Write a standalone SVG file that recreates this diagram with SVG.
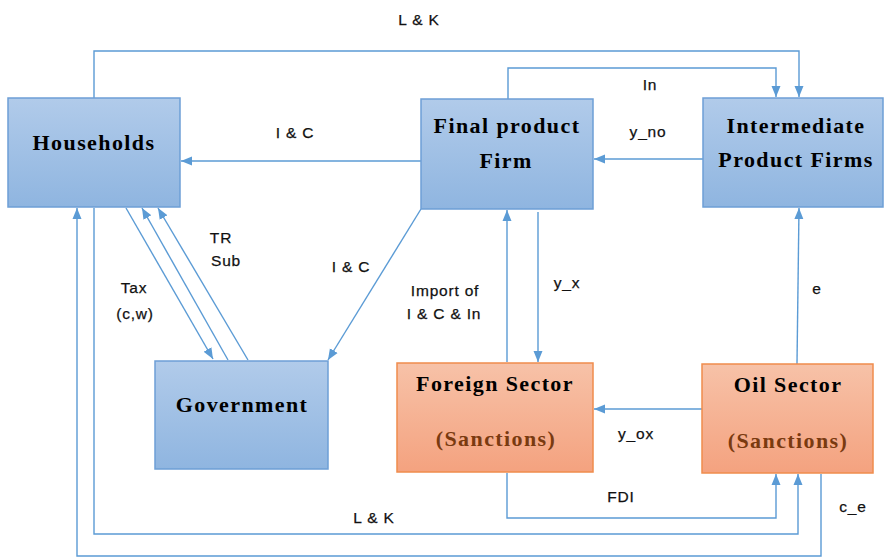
<svg xmlns="http://www.w3.org/2000/svg" width="885" height="557" viewBox="0 0 885 557">
<style>
.blue{fill:url(#gb);stroke:#6d9fd6;stroke-width:1.5}
.org{fill:url(#go);stroke:#f08c4c;stroke-width:1.5}
.nt{font-family:"Liberation Serif",serif;font-weight:bold;font-size:22px;letter-spacing:1.4px;text-anchor:middle;fill:#000}
.sanc{fill:#7a3a10}
.c{fill:none;stroke:#5b9bd5;stroke-width:1.4}
.lb{font-family:"Liberation Sans",Arial,sans-serif;font-size:15.5px;letter-spacing:0.8px;text-anchor:middle;fill:#111;stroke:#111;stroke-width:0.25}
</style>
<defs>
<linearGradient id="gb" x1="0" y1="0" x2="0" y2="1"><stop offset="0" stop-color="#b1cbea"/><stop offset="1" stop-color="#8fb5e0"/></linearGradient>
<linearGradient id="go" x1="0" y1="0" x2="0" y2="1"><stop offset="0" stop-color="#f7c2a8"/><stop offset="1" stop-color="#f4a27f"/></linearGradient>
<marker id="ar" markerUnits="userSpaceOnUse" markerWidth="12" markerHeight="12" viewBox="0 0 12 12" refX="11" refY="6" orient="auto"><path d="M0,1.5 L11,6 L0,10.5 Z" fill="#5b9bd5"/></marker>
</defs>
<rect width="885" height="557" fill="#fff"/>
<g id="connectors">
<polyline class="c" points="94,98 94,51 799,51 799,97" marker-end="url(#ar)"/>
<polyline class="c" points="508,99 508,68 776,68 776,97" marker-end="url(#ar)"/>
<line class="c" x1="703" y1="159" x2="594" y2="159" marker-end="url(#ar)"/>
<line class="c" x1="421" y1="161" x2="181" y2="161" marker-end="url(#ar)"/>
<line class="c" x1="126" y1="208" x2="213" y2="359" marker-end="url(#ar)"/>
<line class="c" x1="228" y1="360" x2="142" y2="208" marker-end="url(#ar)"/>
<line class="c" x1="248" y1="360" x2="158" y2="208" marker-end="url(#ar)"/>
<line class="c" x1="421" y1="209" x2="328" y2="360" marker-end="url(#ar)"/>
<line class="c" x1="507" y1="362" x2="507" y2="210" marker-end="url(#ar)"/>
<line class="c" x1="538" y1="212" x2="538" y2="362" marker-end="url(#ar)"/>
<line class="c" x1="797" y1="364" x2="799" y2="208" marker-end="url(#ar)"/>
<line class="c" x1="702" y1="409" x2="594" y2="409" marker-end="url(#ar)"/>
<polyline class="c" points="507,473 507,518 776,518 776,474" marker-end="url(#ar)"/>
<polyline class="c" points="94,208 94,534 798,534 798,474" marker-end="url(#ar)"/>
<polyline class="c" points="821,474 821,556 77,556 77,208" marker-end="url(#ar)"/>
</g>
<g id="households"><rect class="blue" x="8" y="98" width="172" height="109"/><text class="nt" x="94" y="150">Households</text></g>
<g id="final-product-firm"><rect class="blue" x="421" y="99" width="172" height="110"/><text class="nt" x="507" y="133">Final product</text><text class="nt" x="506" y="168">Firm</text></g>
<g id="intermediate-product-firms"><rect class="blue" x="703" y="98" width="180" height="109"/><text class="nt" x="796" y="133">Intermediate</text><text class="nt" x="796" y="167">Product Firms</text></g>
<g id="government"><rect class="blue" x="155" y="361" width="173" height="108"/><text class="nt" x="242" y="412">Government</text></g>
<g id="foreign-sector"><rect class="org" x="397" y="363" width="196" height="109"/><text class="nt" x="495" y="391">Foreign Sector</text><text class="nt sanc" x="496" y="446">(Sanctions)</text></g>
<g id="oil-sector"><rect class="org" x="702" y="364" width="171" height="109"/><text class="nt" x="788" y="392">Oil Sector</text><text class="nt sanc" x="788" y="448">(Sanctions)</text></g>
<g id="labels">
<text class="lb" x="419" y="25">L &amp; K</text>
<text class="lb" x="295" y="138">I &amp; C</text>
<text class="lb" x="650" y="90">In</text>
<text class="lb" x="648" y="137">y_no</text>
<text class="lb" x="221" y="243">TR</text>
<text class="lb" x="226" y="266">Sub</text>
<text class="lb" x="134" y="293">Tax</text>
<text class="lb" x="135" y="319">(c,w)</text>
<text class="lb" x="351" y="272">I &amp; C</text>
<text class="lb" x="445" y="296">Import of</text>
<text class="lb" x="444" y="319">I &amp; C &amp; In</text>
<text class="lb" x="567" y="288">y_x</text>
<text class="lb" x="817" y="294">e</text>
<text class="lb" x="636" y="439">y_ox</text>
<text class="lb" x="621" y="502">FDI</text>
<text class="lb" x="374" y="523">L &amp; K</text>
<text class="lb" x="853" y="512">c_e</text>
</g>
</svg>
